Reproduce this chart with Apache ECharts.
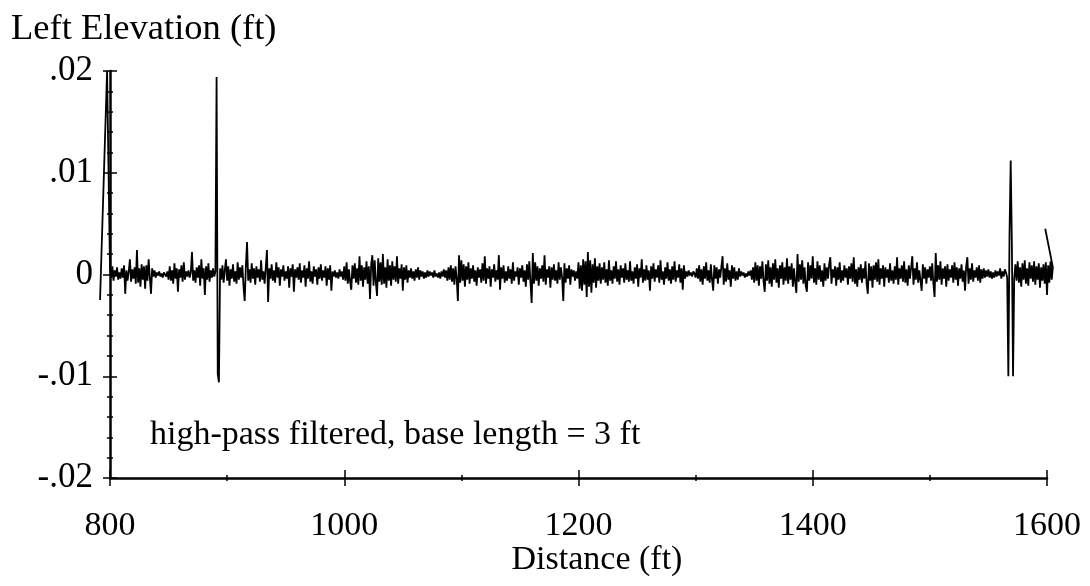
<!DOCTYPE html>
<html>
<head>
<meta charset="utf-8">
<script src="https://cdn.jsdelivr.net/npm/echarts@6/dist/echarts.min.js"></script>
<style>
html,body{margin:0;padding:0;background:#fff;}
#chart{width:1090px;height:586px;}
</style>
</head>
<body>
<div id="chart"></div>
<script>
// ---- data (elevation in units of 0.0001 ft) ----
const yTitle = 'Left Elevation (ft)';
const xTitle = 'Distance (ft)';
const note = 'high-pass filtered, base length = 3 ft';
const xTickValues = [800, 1000, 1200, 1400, 1600];
const yTickValues = [-0.02, -0.01, 0, 0.01, 0.02];
const yTickLabels = ['-.02', '-.01', '0', '.01', '.02'];

// points drawn before the regular record starts (distance ft, elevation 1e-4 ft)
const leadDist = [791.5, 797.5];
const leadElev = [-25, 200];
// the record: one row per 20 ft, one sample per foot, starting at 800 ft
const rowStartFt = 800;
const rowLengthFt = 20;
const elevRows = [
 [5,-3,8,-6,4,-2,7,-5,2,-4,6,-3,9,-19,4,-6,3,15,-7,5],
 [-4,7,-9,24,-8,6,-12,10,-5,8,-14,9,-6,15,-3,-19,6,-2,4,-3],
 [2,-1,3,-2,1,-3,2,0,-2,3,-5,8,-6,4,-9,11,-4,6,-17,5],
 [-3,9,-7,12,-5,3,-2,4,-3,2,22,-6,4,-8,7,-3,9,-11,15,-4],
 [6,-20,8,-5,11,-7,4,-3,6,-2,3,194,-98,-106,6,-5,9,-8,4,15],
 [-6,8,-11,5,-4,10,-7,3,-9,12,-5,7,-3,9,-12,-26,8,32,-6,5],
 [-8,11,-4,6,-10,8,-3,5,-7,14,-5,3,-9,7,24,-27,6,-4,10,-6],
 [4,-8,12,-3,7,-11,5,-2,9,-6,3,-4,8,-13,6,-2,10,-17,5,-3],
 [7,-5,11,-8,4,-3,9,-12,6,-4,13,-7,3,-9,8,-2,5,-10,7,-4],
 [10,-6,4,-3,8,-11,6,-5,9,-16,3,-2,4,-3,2,-4,5,-2,3,-5],
 [8,-6,12,-9,5,-7,-15,9,-4,11,-8,6,-10,18,-6,9,-12,7,-5,13],
 [-9,8,-24,10,19,-11,14,-8,-21,16,-7,12,-10,20,-9,7,-13,15,-6,9],
 [-11,13,-5,8,-7,18,-9,6,-4,10,-16,7,-5,9,-8,4,-3,6,-4,3],
 [-6,5,-3,7,-5,4,-2,3,-4,2,-3,4,-2,3,-1,2,-3,4,-2,1],
 [-3,2,-4,3,-2,5,-3,4,-6,7,-5,9,-7,6,-10,8,-4,-26,19,-8],
 [14,-6,10,-12,8,-5,12,-9,6,-4,9,-7,4,-11,7,-3,5,-8,11,-6],
 [18,-9,6,-4,8,-12,5,-3,10,-7,4,-5,19,-15,7,-4,9,-8,3,-6],
 [8,-4,5,-9,12,-6,3,-2,7,-10,6,-3,9,-7,4,-12,10,-5,13,-8],
 [-28,21,-9,12,-6,8,-11,6,-4,9,-7,19,-10,5,-3,8,-13,7,-5,10],
 [-6,4,-9,12,-5,7,-3,-26,11,-8,6,-4,9,-10,5,-2,4,-6,3,-4],
 [12,-14,9,-16,15,-10,13,-22,22,-12,14,-18,10,-8,16,-13,8,-6,11,-9],
 [7,-5,12,-8,5,-11,14,-6,4,-9,8,-4,13,-7,5,-10,9,-3,6,-8],
 [11,-5,4,-7,13,-6,3,-9,7,-4,10,-12,6,-3,15,-8,5,-6,9,-5],
 [4,-16,8,-4,11,-7,5,-3,9,-8,14,-5,3,-10,7,-4,12,-6,5,-9],
 [8,-5,13,-7,4,-3,10,-8,6,-15,9,-4,3,-2,4,-1,2,-2,3,1],
 [-3,6,-4,9,-7,5,-10,8,-4,12,-6,4,-8,10,-5,-16,9,-4,7,-9],
 [5,-3,8,18,-10,6,-7,11,-5,4,-12,9,-4,7,-6,3,-5,6,-2,3],
 [-1,2,-3,1,-2,3,-1,4,-5,7,-8,12,-6,9,-11,8,-4,13,-7,-17],
 [10,-6,14,-9,7,-12,11,-5,15,-8,6,-13,9,-4,12,-10,7,-6,16,-9],
 [8,-5,11,-12,6,-8,-18,20,-7,10,-5,14,-9,7,-11,-17,12,-6,9,-4],
 [18,-8,6,-10,13,-5,9,-7,4,-12,11,-6,7,-4,10,17,-9,5,-3,8],
 [-11,7,-5,12,-8,4,-6,9,-3,6,-10,8,-4,11,-7,17,-9,5,-12,7],
 [-5,10,-8,6,-4,13,-9,-19,11,-6,8,-13,9,-5,12,-7,15,-10,6,-4],
 [9,-12,7,-3,5,-8,11,-6,4,-9,8,-5,17,-10,6,-4,9,-7,13,-8],
 [5,-11,9,-4,7,18,-10,6,-5,12,-8,4,-6,-16,10,-4,7,-9,5,-3],
 [8,-6,11,-9,-22,21,-7,9,-5,13,-10,6,-4,8,-12,10,-6,5,-3,9],
 [-8,12,-5,7,-11,6,-4,10,-7,4,-16,8,17,-9,6,-5,11,-7,4,-3],
 [7,-6,9,-8,5,-4,6,-3,4,-2,5,-3,3,-4,2,-3,4,-2,3,-1],
 [6,-4,3,-2,5,2,-3,-100,40,112,30,-100,-4,10,-6,13,-8,7,-12,11],
 [-5,14,-9,6,-11,12,-4,9,-7,13,-10,8,-5,11,-13,7,-6,10,-9,12],
 [-20,9,-8,13,-5,7]
];
// the trace ends with a short stroke back to the left
const tailDist = [1598.5];
const tailElev = [45];

// ---- build the series points ----
const UNIT = 0.0001;
const points = [];
leadDist.forEach((d, i) => points.push([d, leadElev[i] * UNIT]));
elevRows.forEach((row, r) => {
  row.forEach((v, j) => points.push([rowStartFt + r * rowLengthFt + j, v * UNIT]));
});
tailDist.forEach((d, i) => points.push([d, tailElev[i] * UNIT]));

const FONT = 'Liberation Serif';
const chart = echarts.init(document.getElementById('chart'), null, {renderer: 'canvas'});

function yLabel(v) {
  let best = 0;
  yTickValues.forEach((t, i) => { if (Math.abs(t - v) < Math.abs(yTickValues[best] - v)) best = i; });
  return yTickLabels[best];
}

// axis frame: 800..1600 ft spans x = 110..1047 px
const AX_L = 110, AX_R = 1047, TOP = 71, BOTTOM_PX = 478, W = 1090, H = 586;
const X0 = 800, X1 = 1600;
const pxPerFt = (AX_R - AX_L) / (X1 - X0);
// the data grid is widened so the trace may run a little past the frame
const D0 = 790, D1 = 1610;
const frameGrid = {left: AX_L, right: W - AX_R, top: TOP, bottom: H - BOTTOM_PX, containLabel: false};
const dataGrid = {left: AX_L - (X0 - D0) * pxPerFt, right: W - AX_R - (D1 - X1) * pxPerFt,
  top: TOP, bottom: H - BOTTOM_PX, containLabel: false};

const tickStyle = {color: '#000', width: 1.5};
function xFrameAxis(gridIndex, inside) {
  return {
    type: 'value', gridIndex, min: X0, max: X1, interval: 200,
    axisLine: {show: !inside, onZero: false, lineStyle: {color: '#000', width: 2.5}},
    axisTick: {show: true, inside, length: 8, lineStyle: tickStyle},
    minorTick: {show: true, splitNumber: 2, length: 3, lineStyle: tickStyle},
    splitLine: {show: false}, minorSplitLine: {show: false},
    axisLabel: inside ? {show: false} : {color: '#000', fontFamily: FONT, fontSize: 34, margin: 31,
      formatter: v => String(v)}
  };
}
function yFrameAxis(gridIndex, inside) {
  return {
    type: 'value', gridIndex, min: -0.02, max: 0.02, interval: 0.01,
    axisLine: {show: !inside, onZero: false, lineStyle: {color: '#000', width: 2.5}},
    axisTick: {show: true, inside, length: 7, lineStyle: tickStyle},
    minorTick: {show: true, splitNumber: 5, length: 3, lineStyle: tickStyle},
    splitLine: {show: false}, minorSplitLine: {show: false},
    axisLabel: inside ? {show: false} : {color: '#000', fontFamily: FONT, fontSize: 35, margin: 17,
      padding: [10, 0, 0, 0], formatter: yLabel}
  };
}

const option = {
  animation: false,
  backgroundColor: '#fff',
  grid: [dataGrid, frameGrid, Object.assign({}, frameGrid)],
  xAxis: [
    {type: 'value', gridIndex: 0, min: D0, max: D1, show: false},
    xFrameAxis(1, false),
    xFrameAxis(2, true)
  ],
  yAxis: [
    {type: 'value', gridIndex: 0, min: -0.02, max: 0.02, show: false},
    yFrameAxis(1, false),
    yFrameAxis(2, true)
  ],
  series: [{
    type: 'line', xAxisIndex: 0, yAxisIndex: 0,
    data: points, showSymbol: false, symbol: 'none', clip: false,
    lineStyle: {color: '#000', width: 1.8}, z: 3
  }],
  graphic: [
    {type: 'text', left: 11, top: 11, style: {text: yTitle, font: '36.5px "Liberation Serif"', fill: '#000'}},
    {type: 'text', x: 597, y: 560, style: {text: xTitle, font: '34px "Liberation Serif"', fill: '#000', align: 'center', verticalAlign: 'middle'}},
    {type: 'text', x: 150, y: 435, style: {text: note, font: '34px "Liberation Serif"', fill: '#000', align: 'left', verticalAlign: 'middle'}}
  ]
};
chart.setOption(option);
</script>
</body>
</html>
